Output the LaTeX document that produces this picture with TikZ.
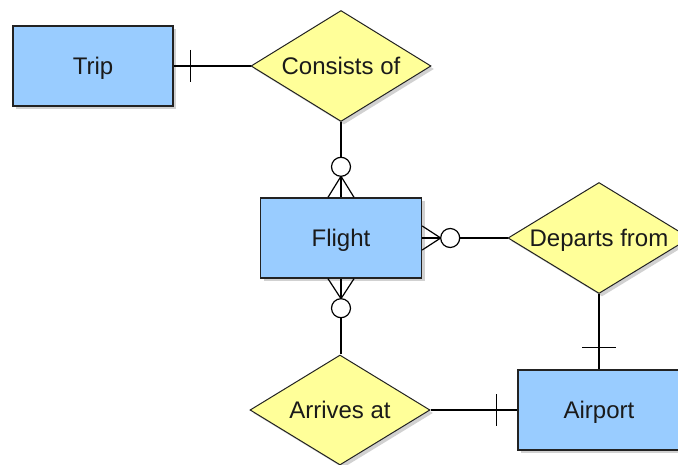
\documentclass[tikz,border=0pt]{standalone}
\usepackage{fontspec}
\setmainfont{Liberation Sans}
\usetikzlibrary{shapes.geometric,calc,shadows}
\definecolor{entblue}{HTML}{99CCFF}
\definecolor{relyellow}{HTML}{FFFF99}
\definecolor{edge}{HTML}{222222}
\definecolor{txt}{HTML}{1A1A1A}
\tikzset{
  shad/.style={drop shadow={shadow xshift=3pt,shadow yshift=-3pt,fill=black,opacity=0.18}},
  entity/.style={rectangle,draw=edge,line width=1.4pt,fill=entblue,inner sep=0pt,
    minimum width=160pt,minimum height=80pt,text=txt,font=\fontsize{24}{28}\selectfont,shad},
  relation/.style={diamond,draw=edge,line width=1pt,fill=relyellow,inner sep=0pt,
    minimum width=180pt,minimum height=111pt,text=txt,font=\fontsize{24}{28}\selectfont,shad},
  conn/.style={draw=black,line width=1.2pt},
  ring/.style={draw=black,line width=1.2pt,fill=white}
}
\newcommand{\lbl}[1]{\makebox[0pt]{\smash{\raisebox{-0.36em}{#1}}}}
\begin{document}
\begin{tikzpicture}[x=1pt,y=-1pt]
\useasboundingbox (0,0) rectangle (678,465);
\clip (0,0) rectangle (678,465);
% nodes
\node[entity] (trip) at (93,66) {\lbl{Trip}};
\node[relation] (consists) at (341,66) {\lbl{Consists of}};
\node[entity,minimum width=161pt] (flight) at (341,238) {\lbl{Flight}};
\node[relation,minimum width=182pt] (departs) at (599,238) {\lbl{Departs from}};
\node[entity,minimum width=162pt] (airport) at (599,410) {\lbl{Airport}};
\node[relation,minimum height=110pt] (arrives) at (340,410) {\lbl{Arrives at}};
% connectors
\draw[conn] (trip.east) -- (consists.west);
\draw[conn] (consists.south) -- (flight.north);
\draw[conn] (flight.south) -- (flight.south |- arrives.north);
\draw[conn] (flight.east) -- (departs.west);
\draw[conn] (departs.south) -- (airport.north);
\draw[conn] (arrives.east) -- (airport.west);
% one marks
\draw[conn] ($(trip.east)+(17,-16)$) -- ($(trip.east)+(17,16)$);
\draw[conn] ($(airport.north)+(-17,-22)$) -- ($(airport.north)+(17,-22)$);
\draw[conn] ($(airport.west)+(-21,-16)$) -- ($(airport.west)+(-21,16)$);
% crow's feet top
\draw[conn] ($(flight.north)+(-13,0)$) -- ($(flight.north)+(0,-21)$) -- ($(flight.north)+(13,0)$);
\draw[ring] ($(flight.north)+(0,-30.5)$) circle[radius=9.5pt];
% crow's feet bottom
\draw[conn] ($(flight.south)+(-13,0)$) -- ($(flight.south)+(0,20)$) -- ($(flight.south)+(13,0)$);
\draw[ring] ($(flight.south)+(0,29.5)$) circle[radius=9.5pt];
% crow's feet right
\draw[conn] ($(flight.east)+(0,-12)$) -- ($(flight.east)+(18.5,0)$) -- ($(flight.east)+(0,12)$);
\draw[ring] ($(flight.east)+(28,0)$) circle[radius=9.5pt];
\end{tikzpicture}
\end{document}
